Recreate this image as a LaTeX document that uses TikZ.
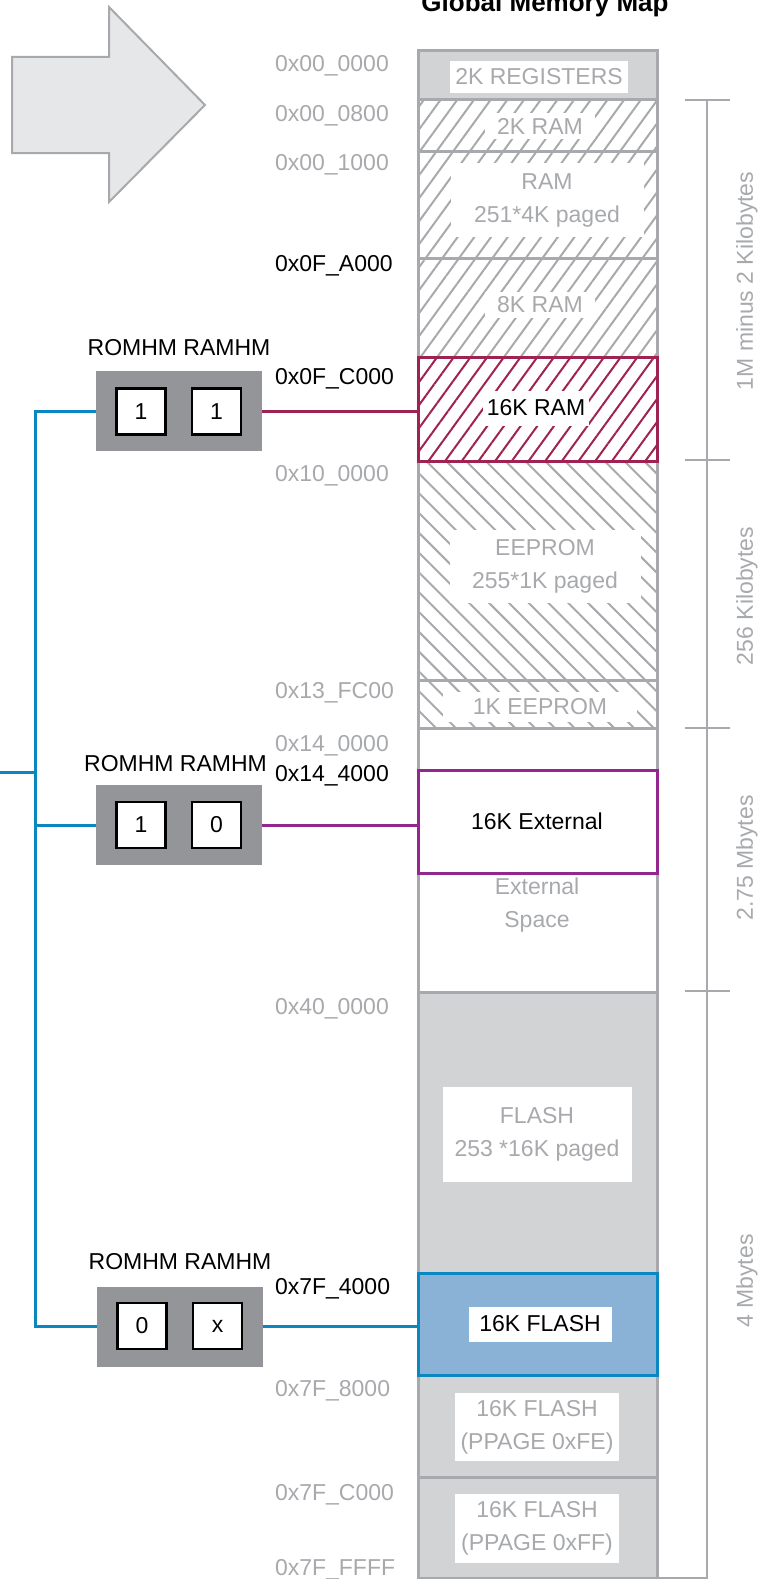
\documentclass[tikz,border=0pt]{standalone}
\usepackage{fontspec}
\setmainfont{Liberation Sans}
\usetikzlibrary{patterns.meta,positioning}
\definecolor{linegray}{HTML}{A7A9AC}
\definecolor{fillgray}{HTML}{D1D3D4}
\definecolor{arrowfill}{HTML}{E6E7E8}
\definecolor{boxgray}{HTML}{939598}
\definecolor{ramred}{HTML}{9E2252}
\definecolor{extmag}{HTML}{93278F}
\definecolor{busblue}{HTML}{0A86C0}
\definecolor{flashblue}{HTML}{8AB2D6}
\begin{document}
\begin{tikzpicture}[x=1pt, y=-1pt,
		every node/.style={inner sep=0pt, outer sep=0pt, font=\fontsize{23}{33}\selectfont},
		memblock/.style={rectangle, draw=linegray, line width=3pt, minimum width=239pt},
		nehatch/.style={pattern={Lines[angle=54, distance=13.5pt, line width=2pt]}, pattern color=linegray},
		nwhatch/.style={pattern={Lines[angle=-45, distance=14pt, line width=2pt]}, pattern color=linegray},
		tagbox/.style={fill=white, text=linegray, align=center},
		addr/.style={anchor=base west, text=linegray},
		addrhot/.style={anchor=base west, text=black},
		sizelabel/.style={rotate=90, text=linegray},
		hmbox/.style={fill=boxgray, minimum width=166pt, minimum height=80pt},
		hmcell/.style={draw=black, fill=white, line width=2.5pt, minimum width=49pt, minimum height=46pt},
		bracket/.style={draw=linegray, line width=2.5pt},
		wire/.style={line width=3pt}]
	\useasboundingbox (0,0) rectangle (758,1579);
	% arrow
	\draw[fill=arrowfill, draw=linegray, line width=2pt, line join=miter] (12,57) -- (109,57) -- (109,7) -- (205,105) -- (109,202) -- (109,153) -- (12,153) -- cycle;
	\node[font=\fontsize{26}{30}\selectfont\bfseries, anchor=base] (title) at (545,12) {Global Memory Map};
	% memory column
	\node[memblock, fill=fillgray, minimum height=48pt] (reg) at (537.5,75) {};
	\node[memblock, nehatch, minimum height=52pt] (ram2) at (537.5,125) {};
	\node[memblock, nehatch, minimum height=107pt] (rampg) at (537.5,204.5) {};
	\node[memblock, nehatch, minimum height=99pt] (ram8) at (537.5,307.5) {};
	\node[memblock, nwhatch, minimum height=219pt] (eepg) at (537.5,570.5) {};
	\node[memblock, nwhatch, minimum height=48pt] (ee1) at (537.5,704) {};
	\node[memblock, minimum height=42pt] (gap) at (537.5,749) {};
	\node[memblock, minimum height=119pt] (extsp) at (537.5,932.5) {};
	\node[memblock, fill=fillgray, minimum height=281pt] (flpg) at (537.5,1132.5) {};
	\node[memblock, fill=fillgray, minimum height=102pt] (flfe) at (537.5,1426) {};
	\node[memblock, fill=fillgray, minimum height=101pt] (flff) at (537.5,1527.5) {};
	\node[memblock, draw=ramred, pattern={Lines[angle=54, distance=13.5pt, line width=2pt]}, pattern color=ramred, minimum height=104pt] (ram16) at (537.5,409) {};
	\node[memblock, draw=extmag, fill=white, minimum height=103pt] (ext16) at (537.5,821.5) {};
	\node[memblock, draw=busblue, fill=flashblue, minimum height=102pt] (fl16) at (537.5,1324) {};
	% block texts
	\node[tagbox, minimum width=178pt, minimum height=32pt] (regtxt) at (539,77) {2K REGISTERS};
	\node[tagbox, minimum width=110pt, minimum height=26pt] (ram2txt) at (540,126) {2K RAM};
	\node[tagbox, minimum width=193pt, minimum height=74pt] (rampgtxt) at (547,200) {RAM\\251*4K paged};
	\node[tagbox, minimum width=110pt, minimum height=26pt] (ram8txt) at (540,305) {8K RAM};
	\node[fill=white, minimum width=106pt, minimum height=35pt] (ram16txt) at (536,408) {16K RAM};
	\node[tagbox, minimum width=191pt, minimum height=73pt] (eepgtxt) at (545,566) {EEPROM\\255*1K paged};
	\node[tagbox, minimum width=194pt, minimum height=30pt] (ee1txt) at (540,707) {1K EEPROM};
	\node (ext16txt) at (537,821) {16K External};
	\node[text=linegray, align=center] (extsptxt) at (537,905) {External\\Space};
	\node[tagbox, minimum width=189pt, minimum height=95pt] (flpgtxt) at (537,1134) {FLASH\\253 *16K paged};
	\node[fill=white, minimum width=143pt, minimum height=35pt] (fl16txt) at (540,1324) {16K FLASH};
	\node[tagbox, minimum width=164pt, minimum height=68pt] (flfetxt) at (537,1427) {16K FLASH\\(PPAGE 0xFE)};
	\node[tagbox, minimum width=164pt, minimum height=69pt] (flfftxt) at (537,1528) {16K FLASH\\(PPAGE 0xFF)};
	% addresses
	\node[addr] (a0) at (275,71.5) {0x00\_0000};
	\node[addr] (a1) at (275,121.5) {0x00\_0800};
	\node[addr] (a2) at (275,170.5) {0x00\_1000};
	\node[addrhot] (a3) at (275,271.5) {0x0F\_A000};
	\node[addrhot] (a4) at (275,384.5) {0x0F\_C000};
	\node[addr] (a5) at (275,481.5) {0x10\_0000};
	\node[addr] (a6) at (275,698.5) {0x13\_FC00};
	\node[addr] (a7) at (275,751.5) {0x14\_0000};
	\node[addrhot] (a8) at (275,781.5) {0x14\_4000};
	\node[addr] (a9) at (275,1014.5) {0x40\_0000};
	\node[addrhot] (a10) at (275,1294.5) {0x7F\_4000};
	\node[addr] (a11) at (275,1396.5) {0x7F\_8000};
	\node[addr] (a12) at (275,1500.5) {0x7F\_C000};
	\node[addr] (a13) at (275,1575.5) {0x7F\_FFFF};
	% size bracket
	\draw[bracket] (707,100) -- (707,1578) -- (657,1578);
	\draw[bracket] (685,100) -- (730,100);
	\draw[bracket] (685,460) -- (730,460);
	\draw[bracket] (685,728) -- (730,728);
	\draw[bracket] (685,991) -- (730,991);
	\node[sizelabel] (s1) at (747,281) {1M minus 2 Kilobytes};
	\node[sizelabel] (s2) at (747,596) {256 Kilobytes};
	\node[sizelabel] (s3) at (747,858) {2.75 Mbytes};
	\node[sizelabel] (s4) at (747,1281) {4 Mbytes};
	% ROMHM / RAMHM settings
	\node[hmbox] (g1) at (179,411) {};
	\node[hmcell] (c1a) at (141,411.5) {1};
	\node[hmcell] (c1b) at (216.5,411.5) {1};
	\node[above=15.5pt of g1] (h1) {ROMHM RAMHM};
	\node[hmbox] (g2) at (179,825) {};
	\node[hmcell] (c2a) at (141,825) {1};
	\node[hmcell] (c2b) at (216.5,825) {0};
	\node[above=13.5pt of g2, xshift=-3.5pt] (h2) {ROMHM RAMHM};
	\node[hmbox] (g3) at (180,1326.5) {};
	\node[hmcell] (c3a) at (142,1326) {0};
	\node[hmcell] (c3b) at (217.5,1326) {x};
	\node[above=16.5pt of g3] (h3) {ROMHM RAMHM};
	% connectors
	\coordinate (bus) at (35,0);
	\coordinate (stub) at (0,772);
	\draw[wire, draw=ramred] (g1.east) -- (g1.east -| ram16.west);
	\draw[wire, draw=extmag] (g2.east) -- (g2.east -| ext16.west);
	\draw[wire, draw=busblue] (g3.east) -- (g3.east -| fl16.west);
	\draw[wire, draw=busblue] (g1.west) -- (g1.west -| bus) -- (g3.west -| bus) -- (g3.west);
	\draw[wire, draw=busblue] (g2.west) -- (g2.west -| bus);
	\draw[wire, draw=busblue] (stub) -- (stub -| bus);
\end{tikzpicture}
\end{document}
